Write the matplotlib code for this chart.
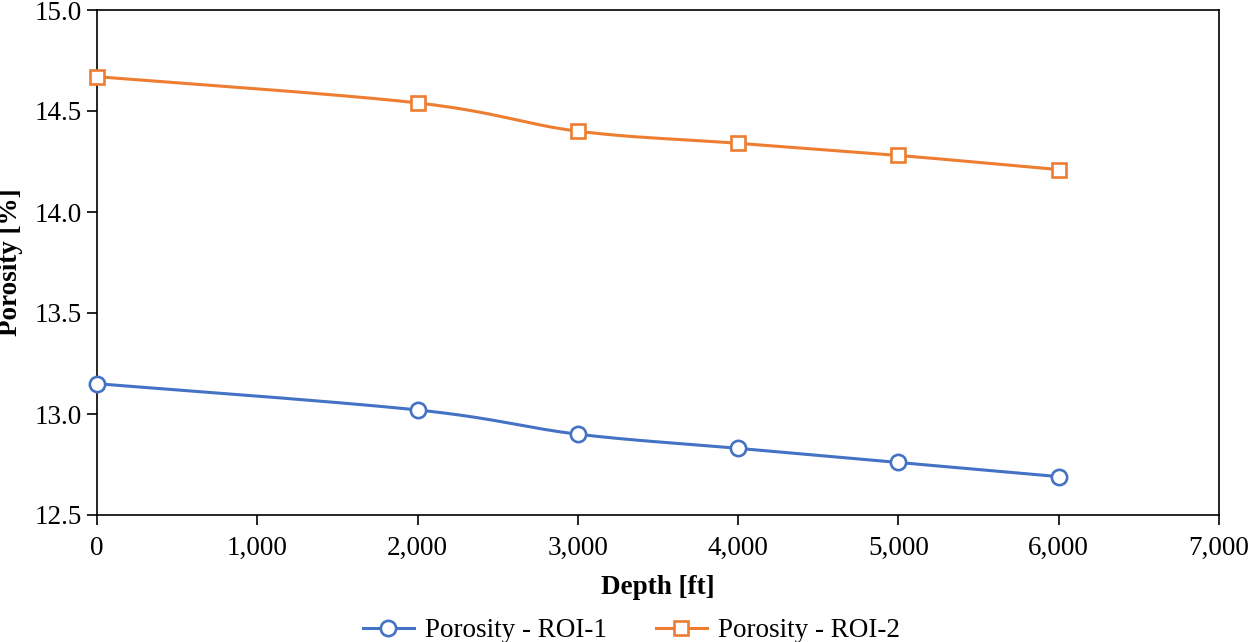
import numpy as np
import matplotlib
matplotlib.use("Agg")
import matplotlib.pyplot as plt
from matplotlib.ticker import FuncFormatter, MultipleLocator

depth = [0, 2000, 3000, 4000, 5000, 6000]
roi1 = [13.15, 13.02, 12.90, 12.83, 12.76, 12.69]
roi2 = [14.67, 14.54, 14.40, 14.34, 14.28, 14.21]
labels = ["Porosity - ROI-1", "Porosity - ROI-2"]
colors = ["#4472C4", "#ED7D31"]

plt.rcParams['font.family'] = ['Liberation Serif', 'DejaVu Serif']

fig = plt.figure(figsize=(12.5, 6.42), dpi=100)
ax = fig.add_axes([97/1250, 1-515/642, (1219-97)/1250, (515-10)/642])
xlim = (0, 7000); ylim = (12.5, 15.0)
ax.set_xlim(*xlim); ax.set_ylim(*ylim)

W = (1219-97); H = (515-10)

def smooth(xs, ys, n=40):
    # Catmull-Rom style (Excel smoothing) in screen space
    px = (np.array(xs) - xlim[0]) / (xlim[1]-xlim[0]) * W
    py = (np.array(ys) - ylim[0]) / (ylim[1]-ylim[0]) * H
    P = np.column_stack([px, py])
    out = [P[0]]
    for i in range(len(P)-1):
        p0 = P[i-1] if i > 0 else P[i]
        p1 = P[i]; p2 = P[i+1]
        p3 = P[i+2] if i+2 < len(P) else P[i+1]
        c1 = p1 + (p2 - p0) / 6
        c2 = p2 - (p3 - p1) / 6
        t = np.linspace(0, 1, n)[1:, None]
        b = (1-t)**3*p1 + 3*(1-t)**2*t*c1 + 3*(1-t)*t**2*c2 + t**3*p2
        out.extend(b)
    out = np.array(out)
    return (out[:, 0]/W*(xlim[1]-xlim[0]) + xlim[0],
            out[:, 1]/H*(ylim[1]-ylim[0]) + ylim[0])

for ys, lab, c, m in [(roi1, labels[0], colors[0], 'o'), (roi2, labels[1], colors[1], 's')]:
    ms = 11 if m == 'o' else 10.5
    sx, sy = smooth(depth, ys)
    ax.plot(sx, sy, color=c, lw=2.2, zorder=3, clip_on=False)
    ax.plot(depth, ys, linestyle='none', marker=m, markersize=ms,
            markerfacecolor='white', markeredgecolor=c, markeredgewidth=1.9, zorder=4, clip_on=False)
    ax.plot([], [], color=c, lw=2.2, marker=m, markersize=ms,
            markerfacecolor='white', markeredgecolor=c, markeredgewidth=1.9, label=lab)

ax.xaxis.set_major_locator(MultipleLocator(1000))
ax.yaxis.set_major_locator(MultipleLocator(0.5))
ax.xaxis.set_major_formatter(FuncFormatter(lambda v, p: f"{int(v):,}"))
ax.yaxis.set_major_formatter(FuncFormatter(lambda v, p: f"{v:.1f}"))
ax.tick_params(axis='both', direction='out', length=7, width=1.2, labelsize=19.5, colors='black')
ax.tick_params(axis='x', pad=8)
ax.tick_params(axis='y', pad=4)
for s in ax.spines.values():
    s.set_linewidth(1.2)
    s.set_color('black')

ax.set_xlabel("Depth [ft]", fontsize=19.5, fontweight='bold', labelpad=10)
ax.set_ylabel("Porosity [%]", fontsize=19.5, fontweight='bold')
ax.yaxis.set_label_coords(-0.066, 0.5)

fig.legend(loc='lower center', bbox_to_anchor=(0.505, -0.04), ncol=2, frameon=False,
           fontsize=19.5, handlelength=1.9, columnspacing=1.8, handletextpad=0.4)

fig.savefig("out.png", dpi=100)
